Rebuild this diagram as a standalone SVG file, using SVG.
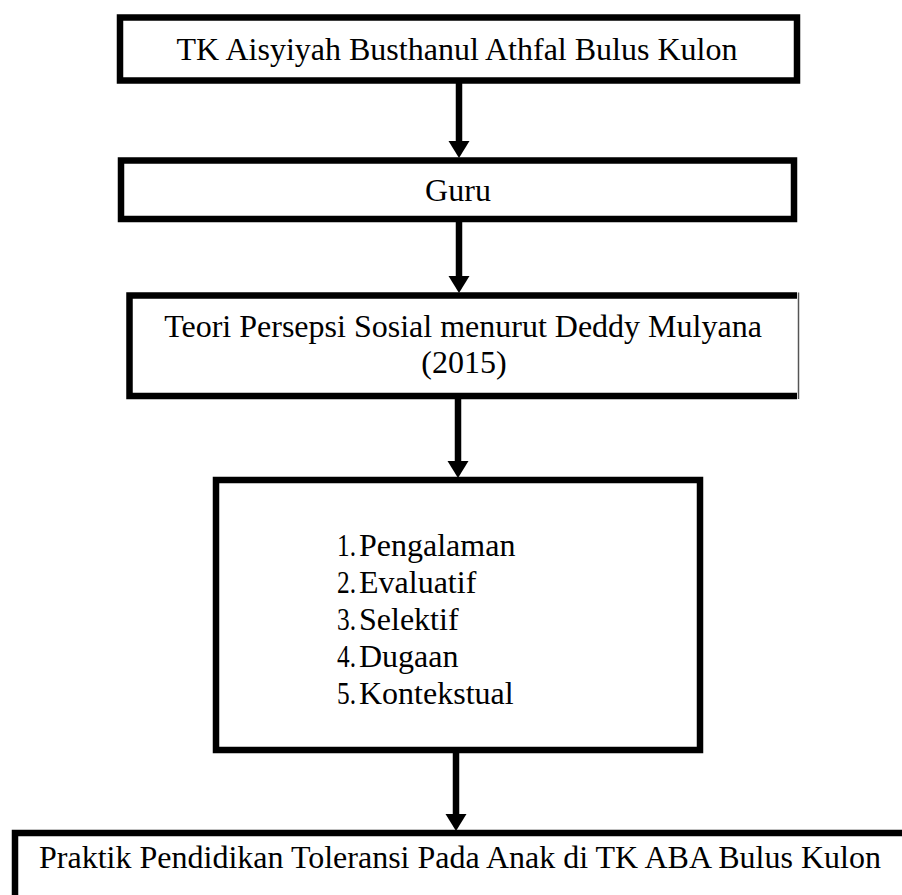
<svg xmlns="http://www.w3.org/2000/svg" width="902" height="895" viewBox="0 0 902 895">
  <defs>
    <marker id="ah" markerUnits="userSpaceOnUse" markerWidth="18" markerHeight="22" refX="0" refY="10.5" orient="auto">
      <path d="M0,0 L17,10.5 L0,21 Z" fill="#000"/>
    </marker>
    <style>
      .box { fill: #fff; stroke: #000; stroke-width: 6.5; }
      .t { font-family: "Liberation Serif", "Times New Roman", serif; font-size: 32px; fill: #000; }
      .c { text-anchor: middle; }
      .conn { stroke: #000; stroke-width: 6.5; fill: none; marker-end: url(#ah); }
    </style>
  </defs>
  <rect width="902" height="895" fill="#fff"/>

  <g id="connectors">
    <line class="conn" x1="459" y1="83" x2="459" y2="141"/>
    <line class="conn" x1="459" y1="222" x2="459" y2="276"/>
    <line class="conn" x1="458" y1="399" x2="458" y2="461"/>
    <line class="conn" x1="456" y1="753" x2="456" y2="814"/>
  </g>

  <g id="node-tk">
    <rect class="box" x="120" y="17.5" width="677" height="63"/>
    <text class="t c" x="457" y="60">TK Aisyiyah Busthanul Athfal Bulus Kulon</text>
  </g>

  <g id="node-guru">
    <rect class="box" x="121" y="160.5" width="673" height="58.5"/>
    <text class="t c" x="458" y="201">Guru</text>
  </g>

  <g id="node-teori">
    <rect x="129.5" y="295.5" width="667.5" height="100.5" fill="#fff"/>
    <path d="M797,295.5 H129.5 V396 H797" fill="none" stroke="#000" stroke-width="6.5"/>
    <line x1="798.5" y1="292.5" x2="798.5" y2="399" stroke="#555" stroke-width="1.5"/>
    <text class="t c" x="463" y="337">Teori Persepsi Sosial menurut Deddy Mulyana</text>
    <text class="t c" x="464" y="373">(2015)</text>
  </g>

  <g id="node-list">
    <rect class="box" x="216" y="480" width="484" height="270"/>
    <text class="t" x="337" y="556" textLength="19" lengthAdjust="spacingAndGlyphs">1.</text>
    <text class="t" x="359" y="556">Pengalaman</text>
    <text class="t" x="337" y="593" textLength="19" lengthAdjust="spacingAndGlyphs">2.</text>
    <text class="t" x="359" y="593">Evaluatif</text>
    <text class="t" x="337" y="630" textLength="19" lengthAdjust="spacingAndGlyphs">3.</text>
    <text class="t" x="359" y="630">Selektif</text>
    <text class="t" x="337" y="667" textLength="19" lengthAdjust="spacingAndGlyphs">4.</text>
    <text class="t" x="359" y="667">Dugaan</text>
    <text class="t" x="337" y="704" textLength="19" lengthAdjust="spacingAndGlyphs">5.</text>
    <text class="t" x="359" y="704">Kontekstual</text>
  </g>

  <g id="node-praktik">
    <rect class="box" x="15" y="833" width="900" height="100"/>
    <text class="t c" x="460" y="868">Praktik Pendidikan Toleransi Pada Anak di TK ABA Bulus Kulon</text>
  </g>
</svg>
